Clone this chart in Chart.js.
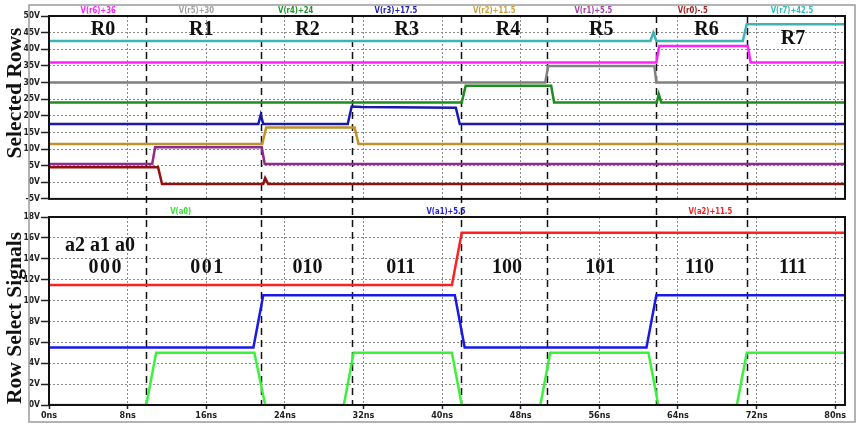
<!DOCTYPE html>
<html><head><meta charset="utf-8">
<script src="https://cdn.jsdelivr.net/npm/chart.js@4"></script>
<style>
html,body{margin:0;padding:0;background:#fff;width:864px;height:428px;overflow:hidden}
#top{position:absolute;left:0;top:0;width:864px;height:205px}
#bot{position:absolute;left:0;top:205px;width:864px;height:223px}
</style></head><body>
<div id="top"><canvas id="c1"></canvas></div>
<div id="bot"><canvas id="c2"></canvas></div>
<script>
// ===== data (ns / V, as plotted) =====
const r7Time = [0, 61.2, 61.5, 61.8, 70.6, 71.0, 81];
const r7Volt = [42.5, 42.5, 45.0, 42.5, 42.5, 47.5, 47.5];
const r6Time = [0, 61.8, 62.1, 71.1, 71.4, 81];
const r6Volt = [36, 36, 41, 41, 36, 36];
const r5Time = [0, 50.5, 50.8, 61.6, 61.8, 81];
const r5Volt = [30, 30, 35, 35, 30, 30];
const r4Time = [0, 42.0, 42.4, 51.1, 51.4, 61.85, 62.05, 62.3, 81];
const r4Volt = [24, 24, 29, 29, 24, 24, 26.5, 24, 24];
const r3Time = [0, 21.3, 21.55, 21.8, 30.4, 30.8, 31.8, 41.4, 41.8, 81];
const r3Volt = [17.5, 17.5, 20.3, 17.5, 17.5, 22.8, 22.6, 22.4, 17.5, 17.5];
const r2Time = [0, 21.7, 22.1, 31.1, 31.5, 81];
const r2Volt = [11.5, 11.5, 16.5, 16.5, 11.5, 11.5];
const r1Time = [0, 10.5, 10.8, 21.65, 21.95, 81];
const r1Volt = [5.5, 5.5, 10.5, 10.5, 5.5, 5.5];
const r0Time = [0, 11.1, 11.5, 21.8, 22.0, 22.3, 81];
const r0Volt = [4.5, 4.5, -0.5, -0.5, 1.3, -0.5, -0.5];

const a0Time = [0, 9.9, 10.9, 20.9, 22.0, 30.0, 31.0, 41.0, 42.0, 50.0, 51.0, 61.0, 62.0, 70.0, 71.0, 81];
const a0Volt = [0, 0, 5, 5, 0, 0, 5, 5, 0, 0, 5, 5, 0, 0, 5, 5];
const a1Time = [0, 20.8, 21.8, 41.3, 42.3, 60.8, 61.8, 81];
const a1Volt = [5.5, 5.5, 10.5, 10.5, 5.5, 5.5, 10.5, 10.5];
const a2Time = [0, 41.0, 42.0, 81];
const a2Volt = [11.5, 11.5, 16.5, 16.5];

const markerTimes = [9.9, 21.55, 30.8, 41.9, 50.7, 61.8, 71.0];
const topTraceNames = ['V(r6)+36','V(r5)+30','V(r4)+24','V(r3)+17.5','V(r2)+11.5','V(r1)+5.5','V(r0)-.5','V(r7)+42.5'];
const botTraceNames = ['V(a0)','V(a1)+5.5','V(a2)+11.5'];
const rowLabels = ['R0','R1','R2','R3','R4','R5','R6','R7'];
const codeLabels = ['000','001','010','011','100','101','110','111'];
const codeHeader = 'a2 a1 a0';
const topTitle = 'Selected Rows';
const botTitle = 'Row Select Signals';

// ===== layout anchors (ns / V) =====
const topNameAt = [5.0, 15.0, 25.1, 35.3, 45.3, 55.4, 65.5, 75.6];
const topNameColors = ['#ff22ff','#a0a0a0','#22922a','#2020b0','#c8a040','#a040a0','#a02020','#33bbbb'];
const botNameAt = [13.4, 40.4, 67.3];
const botNameColors = ['#33e033','#2020d8','#f02020'];
const rowLabelAt = [5.5, 15.5, 26.3, 36.4, 46.7, 56.2, 66.9, 75.7];
const rowLabelV  = [45.9, 45.9, 45.9, 45.9, 45.9, 45.9, 45.9, 43.2];
const codeAt = [5.7, 16.05, 26.3, 35.8, 46.6, 56.1, 66.2, 75.7];
const codeSpacing = [1.5, 1.5, 0, 0, 0, 0, 0, 0];

function pts(t, v){ return t.map((x,i)=>({x:x, y:v[i]})); }
function ds(t, v, color){ return {data: pts(t,v), borderColor: color, borderWidth: 2.5, pointRadius: 0, tension: 0, fill:false}; }

const SMALL = '"Liberation Sans Narrow","DejaVu Sans Condensed","Liberation Sans",sans-serif';
const SERIF = '"Liberation Serif","Times New Roman",serif';

function xScale(showLabels){
  return {
    type:'linear', min:0, max:81,
    afterBuildTicks: s => { s.ticks = s.ticks.filter(t => Math.abs(t.value % 8) < 1e-9); },
    afterFit: s => { s.height = showLabels ? 18 : 0; },
    ticks: {display: showLabels, stepSize: 8, includeBounds:false, autoSkip:false, maxRotation:0, padding:1,
      color:'#222', font:{family:SMALL, size:9, weight:'bold'}, callback: v => v + 'ns'},
    grid: {color:'#8a8a8a', lineWidth:1, drawTicks: showLabels, tickLength:4, tickColor:'#222', tickWidth:1.5, tickBorderDash:[]},
    border: {display:false, dash:[2,2]}
  };
}
function yScale(min, max, step){
  return {
    type:'linear', min:min, max:max,
    afterFit: s => { s.width = 49; },
    ticks: {stepSize: step, autoSkip:false, padding:1, color:'#222',
      font:{family:SMALL, size:8.5, weight:'bold'}, callback: v => v + 'V'},
    grid: {color:'#8a8a8a', lineWidth:1, drawTicks:true, tickLength:8, tickColor:'#222', tickWidth:1.5, tickBorderDash:[]},
    border: {display:false, dash:[2,2]}
  };
}

function decoPlugin(isTop){
  return {
    id: 'deco' + (isTop?'T':'B'),
    beforeDatasetsDraw(chart){
      const ctx = chart.ctx, a = chart.chartArea, xs = chart.scales.x;
      ctx.save();
      ctx.strokeStyle = '#111'; ctx.lineWidth = 1.5;
      ctx.setLineDash([7,5]);
      ctx.lineDashOffset = isTop ? 0 : 9;
      markerTimes.forEach(t => {
        const x = Math.round(xs.getPixelForValue(t)) + 0.5;
        ctx.beginPath();
        if (isTop){ ctx.moveTo(x, a.top); ctx.lineTo(x, chart.height); }
        else { ctx.moveTo(x, 0); ctx.lineTo(x, a.bottom); }
        ctx.stroke();
      });
      ctx.restore();
    },
    afterDraw(chart){
      const ctx = chart.ctx, a = chart.chartArea, xs = chart.scales.x, ys = chart.scales.y;
      ctx.save();
      // outer gray frame
      ctx.strokeStyle = '#9a9a9a'; ctx.lineWidth = 1.5;
      ctx.beginPath();
      if (isTop){ ctx.moveTo(29, chart.height); ctx.lineTo(29, 5); ctx.lineTo(855, 5); ctx.lineTo(855, chart.height); }
      else { ctx.moveTo(29, 0); ctx.lineTo(29, 217); ctx.lineTo(855, 217); ctx.lineTo(855, 0); }
      ctx.stroke();
      // plot frame
      ctx.strokeStyle = '#111'; ctx.lineWidth = 2;
      ctx.strokeRect(a.left, a.top, a.right - a.left, a.bottom - a.top);
      // trace names (condensed)
      ctx.font = 'bold 9px ' + SMALL;
      ctx.textAlign = 'center'; ctx.textBaseline = 'middle';
      const names = isTop ? topTraceNames : botTraceNames;
      const at = isTop ? topNameAt : botNameAt;
      const cols = isTop ? topNameColors : botNameColors;
      names.forEach((n,i) => {
        ctx.save();
        ctx.translate(xs.getPixelForValue(at[i]), a.top - 5.5);
        ctx.scale(0.85, 1);
        ctx.fillStyle = cols[i];
        ctx.fillText(n, 0, 0);
        ctx.restore();
      });
      // big labels
      ctx.fillStyle = '#111';
      ctx.font = 'bold 20px ' + SERIF;
      ctx.textBaseline = 'middle';
      if (isTop){
        rowLabels.forEach((l,i) => ctx.fillText(l, xs.getPixelForValue(rowLabelAt[i]), ys.getPixelForValue(rowLabelV[i])));
      } else {
        ctx.fillText(codeHeader, xs.getPixelForValue(5.2), ys.getPixelForValue(15.2));
        codeLabels.forEach((l,i) => {
          ctx.letterSpacing = codeSpacing[i] + 'px';
          ctx.fillText(l, xs.getPixelForValue(codeAt[i]) + codeSpacing[i]/2, ys.getPixelForValue(13.1));
        });
        ctx.letterSpacing = '0px';
      }
      // axis title
      ctx.save();
      ctx.font = 'bold 21.5px ' + SERIF;
      ctx.translate(20.5, isTop ? 93 : 113);
      ctx.rotate(-Math.PI/2);
      ctx.textAlign = 'center'; ctx.textBaseline = 'alphabetic';
      ctx.fillText(isTop ? topTitle : botTitle, 0, 0);
      ctx.restore();
      ctx.restore();
    }
  };
}

const common = {
  responsive:true, maintainAspectRatio:false, animation:false,
  plugins:{legend:{display:false}, tooltip:{enabled:false}},
  elements:{line:{borderCapStyle:'butt', borderJoinStyle:'miter'}}
};

new Chart(document.getElementById('c1'), {
  type:'line',
  data:{datasets:[
    ds(r0Time, r0Volt, '#901010'),
    ds(r1Time, r1Volt, '#902a90'),
    ds(r2Time, r2Volt, '#c0922a'),
    ds(r3Time, r3Volt, '#1a1ab0'),
    ds(r4Time, r4Volt, '#1e8c1e'),
    ds(r5Time, r5Volt, '#808080'),
    ds(r6Time, r6Volt, '#ff22ff'),
    ds(r7Time, r7Volt, '#3cb4b4')
  ]},
  options:Object.assign({}, common, {
    layout:{padding:{left:0, right:19, top:16, bottom:4}},
    scales:{x:xScale(false), y:yScale(-5, 50, 5)}
  }),
  plugins:[decoPlugin(true)]
});

new Chart(document.getElementById('c2'), {
  type:'line',
  data:{datasets:[
    ds(a2Time, a2Volt, '#ff2020'),
    ds(a1Time, a1Volt, '#1a1ae6'),
    ds(a0Time, a0Volt, '#3cf03c')
  ]},
  options:Object.assign({}, common, {
    layout:{padding:{left:0, right:19, top:12, bottom:5}},
    scales:{x:xScale(true), y:yScale(0, 18, 2)}
  }),
  plugins:[decoPlugin(false)]
});
</script>
</body></html>
